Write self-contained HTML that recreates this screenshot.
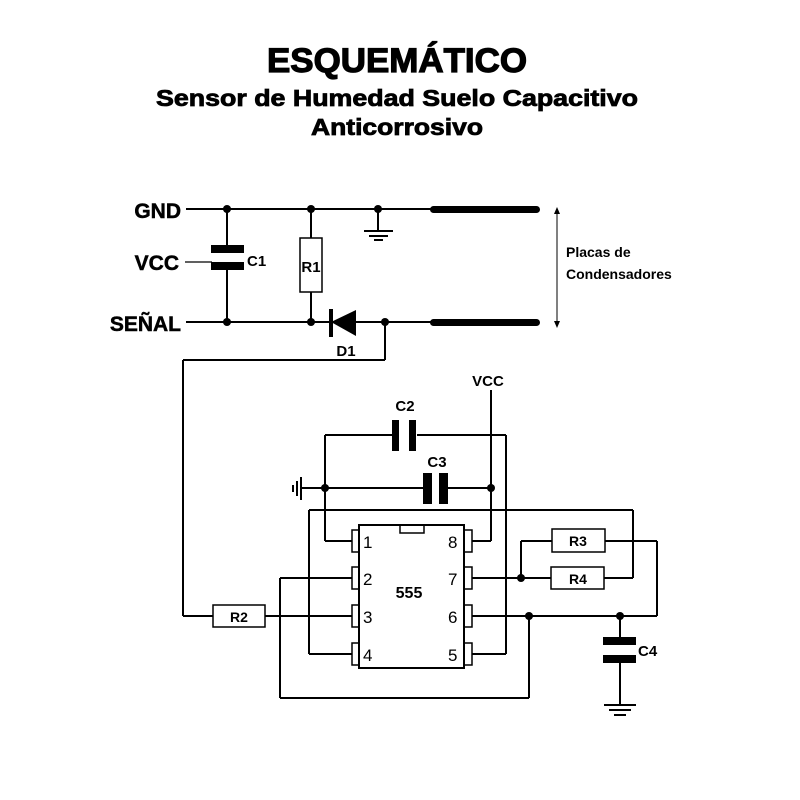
<!DOCTYPE html>
<html><head><meta charset="utf-8"><style>html,body{margin:0;padding:0;background:#fff}svg{display:block}</style></head>
<body>
<svg width="800" height="800" viewBox="0 0 800 800" xmlns="http://www.w3.org/2000/svg" font-family="Liberation Sans, DejaVu Sans, sans-serif">
<rect width="800" height="800" fill="#fff"/>
<g font-weight="bold" fill="#000" stroke="#000" text-anchor="middle">
<text x="397" y="72" font-size="34" stroke-width="1.2" textLength="260" lengthAdjust="spacingAndGlyphs">ESQUEMÁTICO</text>
<text x="397" y="106" font-size="23" stroke-width="0.8" textLength="482" lengthAdjust="spacingAndGlyphs">Sensor de Humedad Suelo Capacitivo</text>
<text x="397" y="135" font-size="23" stroke-width="0.8" textLength="172" lengthAdjust="spacingAndGlyphs">Anticorrosivo</text>
</g>
<g stroke="#000" stroke-width="2" fill="none">
<line x1="186" y1="209" x2="432" y2="209"/>
<line x1="186" y1="322" x2="432" y2="322"/>
<line x1="227" y1="209" x2="227" y2="249"/>
<line x1="227" y1="266" x2="227" y2="322"/>
<line x1="185" y1="262" x2="212" y2="262" stroke-width="1.2"/>
<line x1="311" y1="209" x2="311" y2="238"/>
<line x1="311" y1="292" x2="311" y2="322"/>
<rect x="300" y="238" width="22" height="54" stroke-width="1.5"/>
<line x1="378" y1="209" x2="378" y2="230"/>
<line x1="364" y1="231" x2="393" y2="231"/>
<line x1="369" y1="236" x2="388" y2="236"/>
<line x1="374" y1="240" x2="383" y2="240"/>
<line x1="385" y1="322" x2="385" y2="360"/>
<line x1="183" y1="360" x2="385" y2="360"/>
<line x1="183" y1="360" x2="183" y2="616"/>
<line x1="557" y1="210" x2="557" y2="326" stroke-width="1"/>
<line x1="325" y1="435" x2="394" y2="435"/>
<line x1="417" y1="435" x2="506" y2="435"/>
<line x1="325" y1="435" x2="325" y2="541"/>
<line x1="325" y1="541" x2="352" y2="541"/>
<line x1="506" y1="435" x2="506" y2="654"/>
<line x1="472" y1="654" x2="506" y2="654"/>
<line x1="301" y1="488" x2="425" y2="488"/>
<line x1="447" y1="488" x2="491" y2="488"/>
<line x1="491" y1="390" x2="491" y2="541"/>
<line x1="472" y1="541" x2="491" y2="541"/>
<line x1="301" y1="477" x2="301" y2="500"/>
<line x1="297" y1="481" x2="297" y2="496"/>
<line x1="293" y1="485" x2="293" y2="492"/>
<line x1="309" y1="510" x2="633" y2="510"/>
<line x1="309" y1="510" x2="309" y2="654"/>
<line x1="309" y1="654" x2="352" y2="654"/>
<line x1="633" y1="510" x2="633" y2="578"/>
<line x1="604" y1="578" x2="633" y2="578"/>
<line x1="472" y1="578" x2="551" y2="578"/>
<line x1="521" y1="541" x2="521" y2="578"/>
<line x1="521" y1="541" x2="552" y2="541"/>
<line x1="605" y1="541" x2="657" y2="541"/>
<line x1="657" y1="541" x2="657" y2="616"/>
<line x1="472" y1="616" x2="657" y2="616"/>
<line x1="620" y1="616" x2="620" y2="638"/>
<line x1="620" y1="656" x2="620" y2="705"/>
<line x1="604" y1="705" x2="636" y2="705"/>
<line x1="609" y1="710" x2="631" y2="710"/>
<line x1="614" y1="715" x2="626" y2="715"/>
<line x1="280" y1="578" x2="352" y2="578"/>
<line x1="280" y1="578" x2="280" y2="698"/>
<line x1="280" y1="698" x2="529" y2="698"/>
<line x1="529" y1="616" x2="529" y2="698"/>
<line x1="183" y1="616" x2="213" y2="616"/>
<line x1="265" y1="616" x2="352" y2="616"/>
<rect x="213" y="605" width="52" height="22" stroke-width="1.5"/>
<rect x="552" y="529" width="53" height="23" stroke-width="1.5"/>
<rect x="551" y="567" width="53" height="22" stroke-width="1.5"/>
<rect x="359" y="525" width="105" height="143" stroke-width="2"/>
<rect x="400" y="525" width="24" height="8" stroke-width="1.5"/>
<g stroke-width="1.5">
<rect x="352" y="530" width="7" height="22"/><rect x="352" y="567" width="7" height="22"/>
<rect x="352" y="605" width="7" height="22"/><rect x="352" y="643" width="7" height="22"/>
<rect x="464" y="530" width="8" height="22"/><rect x="464" y="567" width="8" height="22"/>
<rect x="464" y="605" width="8" height="22"/><rect x="464" y="643" width="8" height="22"/>
</g>
</g>
<g fill="#000">
<rect x="430" y="206" width="110" height="7" rx="3.5"/>
<rect x="430" y="319" width="110" height="7" rx="3.5"/>
<polygon points="557,207 554,214 560,214"/>
<polygon points="557,328 554,321 560,321"/>
<rect x="211" y="245" width="33" height="8"/>
<rect x="211" y="262" width="33" height="8"/>
<polygon points="331,322 356,310 356,336"/>
<rect x="329" y="309" width="4" height="28"/>
<rect x="392" y="420" width="7" height="31"/>
<rect x="409" y="420" width="7" height="31"/>
<rect x="423" y="473" width="9" height="31"/>
<rect x="439" y="473" width="9" height="31"/>
<rect x="603" y="637" width="33" height="8"/>
<rect x="603" y="655" width="33" height="8"/>
<circle cx="227" cy="209" r="4"/><circle cx="311" cy="209" r="4"/><circle cx="378" cy="209" r="4"/>
<circle cx="227" cy="322" r="4"/><circle cx="311" cy="322" r="4"/><circle cx="385" cy="322" r="4"/>
<circle cx="325" cy="488" r="4"/><circle cx="491" cy="488" r="4"/>
<circle cx="521" cy="578" r="4"/><circle cx="529" cy="616" r="4"/><circle cx="620" cy="616" r="4"/>
</g>
<g font-weight="bold" fill="#000">
<text x="181" y="218" font-size="21" text-anchor="end" stroke="#000" stroke-width="0.5">GND</text>
<text x="179" y="270" font-size="21" text-anchor="end" stroke="#000" stroke-width="0.5">VCC</text>
<text x="181" y="331" font-size="21" text-anchor="end" stroke="#000" stroke-width="0.5">SEÑAL</text>
<text x="247" y="266" font-size="15">C1</text>
<text x="311" y="272" font-size="15" text-anchor="middle">R1</text>
<text x="346" y="356" font-size="15" text-anchor="middle">D1</text>
<text x="566" y="257" font-size="14">Placas de</text>
<text x="566" y="279" font-size="14">Condensadores</text>
<text x="488" y="386" font-size="15" text-anchor="middle">VCC</text>
<text x="405" y="411" font-size="15" text-anchor="middle">C2</text>
<text x="437" y="467" font-size="15" text-anchor="middle">C3</text>
<text x="578" y="546" font-size="14" text-anchor="middle">R3</text>
<text x="578" y="584" font-size="14" text-anchor="middle">R4</text>
<text x="239" y="622" font-size="14" text-anchor="middle">R2</text>
<text x="638" y="656" font-size="15">C4</text>
<text x="409" y="598" font-size="16" text-anchor="middle">555</text>
</g>
<g fill="#000" font-size="17">
<text x="363" y="548">1</text><text x="363" y="585">2</text><text x="363" y="623">3</text><text x="363" y="661">4</text>
<text x="448" y="548">8</text><text x="448" y="585">7</text><text x="448" y="623">6</text><text x="448" y="661">5</text>
</g>
</svg>
</body></html>
